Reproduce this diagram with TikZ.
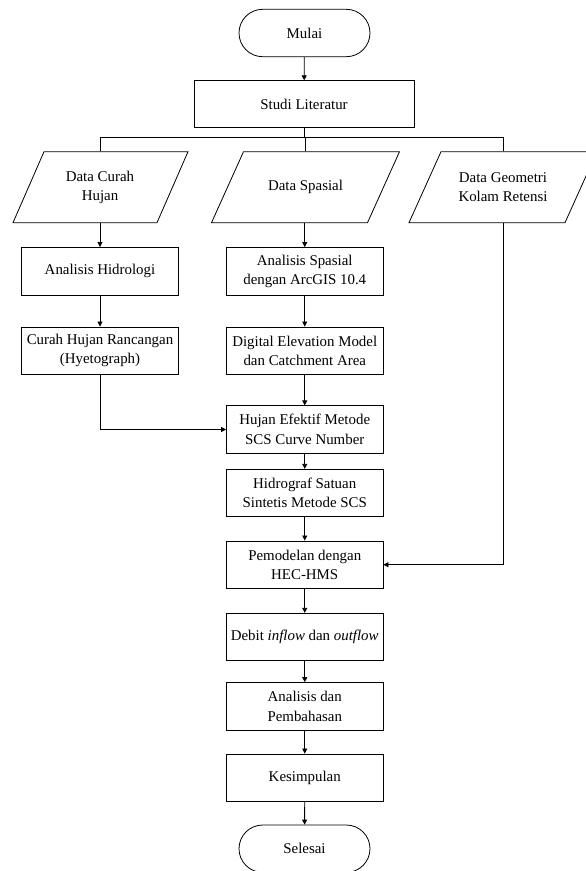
\documentclass[tikz,border=0pt]{standalone}
\usepackage{fontspec}
\setmainfont{Liberation Serif}
\usetikzlibrary{arrows.meta,calc}
\begin{document}
\begin{tikzpicture}[x=1pt,y=-1pt, line width=0.8pt,
  every node/.style={font=\fontsize{14.9}{19.4}\selectfont, align=center, inner sep=0pt},
  box/.style={draw, minimum width=156.5pt, minimum height=47.5pt},
  term/.style={draw, minimum width=131pt, minimum height=47.4pt, rounded corners=23.7pt},
  datatext/.style={minimum height=71pt},
  arr/.style={-{Triangle[length=5pt,width=5pt]}}
]
\clip (0,0) rectangle (586,871);
% nodes
\node[term] (mulai) at (304.5,33) {Mulai};
\node[draw, minimum width=220pt, minimum height=47pt] (studi) at (304,104.2) {Studi Literatur};

\node[datatext] (dch) at (100,187.2) {Data Curah\\Hujan};
\node[datatext] (dsp) at (305.5,187.2) {Data Spasial};
\node[datatext] (dgk) at (503,187.2) {Data Geometri\\Kolam Retensi};
% parallelograms
\draw (dch.center) ++(-87,35.5) -- ++(144,0) -- ++(31,-71) -- ++(-144,0) -- cycle;
\draw (dsp.center) ++(-94,35.5) -- ++(156,0) -- ++(32,-71) -- ++(-156,0) -- cycle;
\draw (dgk.center) ++(-94,35.5) -- ++(156,0) -- ++(32,-71) -- ++(-156,0) -- cycle;

\node[box] (ah) at (100,271.2) {Analisis Hidrologi};
\node[box] (chr) at (100,350.7) {Curah Hujan Rancangan\\(Hyetograph)};
\node[box] (asp) at (304.75,271.2) {Analisis Spasial\\dengan ArcGIS 10.4};
\node[box] (dem) at (304.75,350.7) {Digital Elevation Model\\dan Catchment Area};
\node[box] (he) at (304.75,429.5) {Hujan Efektif Metode\\SCS Curve Number};
\node[box] (hs) at (304.75,493) {Hidrograf Satuan\\Sintetis Metode SCS};
\node[box] (pm) at (304.75,564.7) {Pemodelan dengan\\HEC-HMS};
\node[box] (db) at (304.75,637) {Debit \textit{inflow} dan \textit{outflow}};
\node[box] (ad) at (304.75,706.3) {Analisis dan\\Pembahasan};
\node[box] (ks) at (304.75,777.7) {Kesimpulan};
\node[term] (sel) at (304.5,848.7) {Selesai};

% connectors
\coordinate (hl) at (304,137.7);
\draw[arr] (mulai) -- (studi);
\draw (studi.south) -- (hl);
\draw (dch.north) |- (hl) -| (dgk.north);
\draw (hl) -- (hl -| dsp.north) -- (dsp.north);
\draw[arr] (dch.south) -- (ah);
\draw[arr] (ah) -- (chr);
\draw[arr] (dsp.south -| asp.north) -- (asp);
\draw[arr] (asp) -- (dem);
\draw[arr] (dem) -- (he);
\draw[arr] (chr.south) |- (he.west);
\draw[arr] (he) -- (hs);
\draw[arr] (hs) -- (pm);
\draw[arr] (dgk.south) |- (pm.east);
\draw[arr] (pm) -- (db);
\draw[arr] (db) -- (ad);
\draw[arr] (ad) -- (ks);
\draw[arr] (ks) -- (sel);
\end{tikzpicture}
\end{document}
